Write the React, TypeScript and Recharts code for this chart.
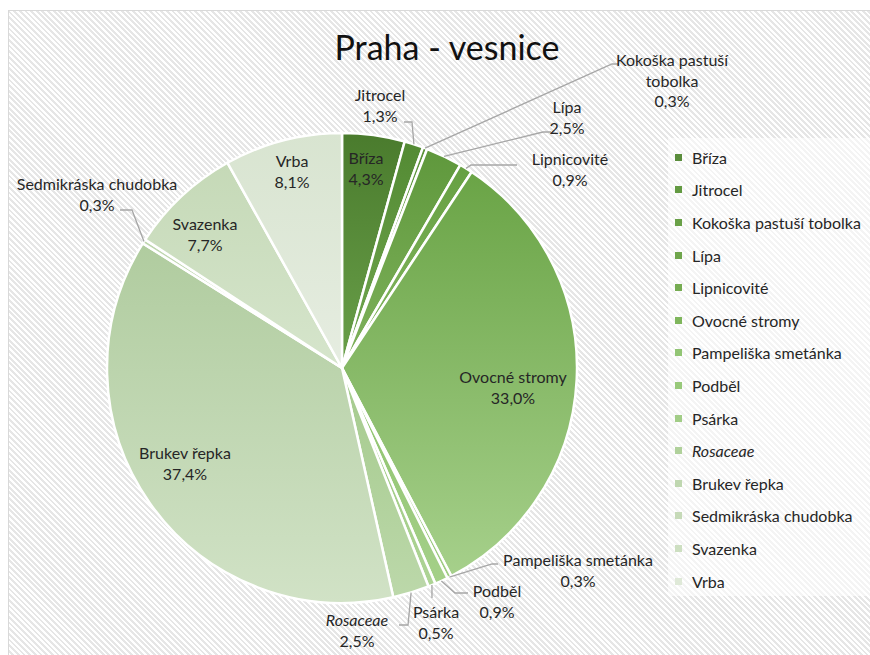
import React from "react";
import { PieChart, Pie, Cell, Legend } from "recharts";

// data (percent)
const categories = [
  "Bříza",
  "Jitrocel",
  "Kokoška pastuší tobolka",
  "Lípa",
  "Lipnicovité",
  "Ovocné stromy",
  "Pampeliška smetánka",
  "Podběl",
  "Psárka",
  "Rosaceae",
  "Brukev řepka",
  "Sedmikráska chudobka",
  "Svazenka",
  "Vrba",
];
const shares = [4.3, 1.3, 0.3, 2.5, 0.9, 33.0, 0.3, 0.9, 0.5, 2.5, 37.4, 0.3, 7.7, 8.1];
const italicNames = ["Rosaceae"];

// gradient top / bottom for each slice
const topColors = [
  "#4a7b2d", "#538a33", "#5a9238", "#5f983c", "#66a042", "#6aa446", "#86bd66",
  "#8cc26b", "#96c579", "#a4ca8c", "#b0cc9f", "#bdd5ad", "#c5d9b7", "#d8e4d0",
];
const bottomColors = [
  "#6aa04a", "#72a851", "#78ad56", "#7fb25c", "#86b863", "#a6d08b", "#9fcd82",
  "#a5d089", "#aed495", "#bcd8aa", "#d1e2c6", "#cfe0c3", "#d6e5cc", "#e6ede1",
];
const legendColors = [
  "#5a8d3c", "#639a42", "#69a047", "#6fa54c", "#76ac52", "#7fb65c", "#92c574",
  "#98c97a", "#a2cd87", "#b0d19b", "#bfd7b0", "#c6dab8", "#cddfc1", "#dfe9d8",
];

// label placement relative to the pie centre; leader = elbow and end point
type Spot = { dx: number; dy: number; wrap?: boolean; leader?: [number, number][] };
const labelSpots: Spot[] = [
  { dx: 24, dy: -200 },
  { dx: 38, dy: -263, leader: [[70, -246], [62, -246]] },
  { dx: 330, dy: -288, wrap: true, leader: [[270, -304], [277, -304]] },
  { dx: 225, dy: -251, leader: [[201, -236], [209, -236]] },
  { dx: 228, dy: -199, leader: [[129, -203], [175, -203]] },
  { dx: 171, dy: 19 },
  { dx: 236, dy: 202, leader: [[150, 196], [156, 196]] },
  { dx: 155, dy: 233, leader: [[113, 225], [126, 225]] },
  { dx: 94, dy: 254, leader: [[90, 230], [90, 230]] },
  { dx: 15, dy: 262, leader: [[66, 257], [57, 257]] },
  { dx: -157, dy: 95 },
  { dx: -245, dy: -174, leader: [[-210, -158], [-222, -158]] },
  { dx: -137, dy: -134 },
  { dx: -50, dy: -197 },
];

const rows = categories.map((name, i) => ({ name, value: shares[i] }));
const FONT = "Lato, 'Open Sans', sans-serif";
const RADIAN = Math.PI / 180;
const fmt = (v: number) => v.toFixed(1).replace(".", ",") + "%";

const renderLabel = (props: any) => {
  const { cx, cy, midAngle, outerRadius, index, name, value } = props;
  const spot = labelSpots[index];
  const words = String(name).split(" ");
  const nameLines = spot.wrap
    ? [words.slice(0, -1).join(" "), words[words.length - 1]]
    : [name];
  const lines = [...nameLines, fmt(value)];
  const lh = 20.5;
  const x = cx + spot.dx;
  const y0 = cy + spot.dy - ((lines.length - 1) * lh) / 2;
  let leader = null;
  if (spot.leader) {
    const ex = cx + outerRadius * Math.cos(-midAngle * RADIAN);
    const ey = cy + outerRadius * Math.sin(-midAngle * RADIAN);
    const pts = [[ex, ey], ...spot.leader.map(([a, b]) => [cx + a, cy + b])];
    leader = (
      <polyline
        points={pts.map((p) => p.join(",")).join(" ")}
        fill="none"
        stroke="#a6a6a6"
        strokeWidth={1.3}
      />
    );
  }
  return (
    <g key={"lbl" + index}>
      {leader}
      {lines.map((t, k) => (
        <text
          key={k}
          x={x}
          y={y0 + k * lh}
          textAnchor="middle"
          dominantBaseline="central"
          fontFamily={FONT}
          fontSize={16}
          fill="#262626"
          fontStyle={k < nameLines.length && italicNames.includes(name) ? "italic" : "normal"}
        >
          {t}
        </text>
      ))}
    </g>
  );
};

const renderLegend = (props: any) => {
  // keep the order of the data, not alphabetical
  const items = [...(props.payload || [])].sort(
    (a: any, b: any) => categories.indexOf(a.value) - categories.indexOf(b.value)
  );
  return (
    <div style={{ fontFamily: FONT, fontSize: 16, color: "#262626" }}>
      {items.map((entry: any) => {
        const i = categories.indexOf(entry.value);
        return (
          <div key={entry.value} style={{ height: 32.6, display: "flex", alignItems: "center" }}>
            <span
              style={{ width: 7, height: 7, background: legendColors[i], marginRight: 10, flexShrink: 0 }}
            />
            <span
              style={{ fontStyle: italicNames.includes(entry.value) ? "italic" : "normal", whiteSpace: "nowrap" }}
            >
              {entry.value}
            </span>
          </div>
        );
      })}
    </div>
  );
};

export default function App() {
  return (
    <div style={{ position: "fixed", left: 0, top: 0, width: 870, height: 655, overflow: "hidden" }}>
      <svg width={0} height={0} style={{ position: "absolute" }}>
        <defs>
          {categories.map((c, i) => (
            <linearGradient key={c} id={"slice" + i} x1="0" y1="0" x2="0" y2="1">
              <stop offset="0%" stopColor={topColors[i]} />
              <stop offset="100%" stopColor={bottomColors[i]} />
            </linearGradient>
          ))}
        </defs>
      </svg>
      <div
        style={{
          position: "absolute",
          left: 8,
          top: 10,
          right: 0,
          bottom: 0,
          borderLeft: "1.5px solid #d9d9d9",
          borderTop: "1.5px solid #d9d9d9",
          background: "repeating-linear-gradient(45deg, #ffffff 0px, #ffffff 2px, #e6e6e6 2px, #e6e6e6 4px)",
        }}
      />
      <div
        style={{
          position: "absolute",
          left: 668,
          top: 138,
          width: 202,
          height: 458,
          background: "rgba(255,255,255,0.55)",
        }}
      />
      <div
        style={{
          position: "absolute",
          left: 247,
          top: 27,
          width: 400,
          textAlign: "center",
          fontFamily: FONT,
          fontSize: 34,
          color: "#111",
          lineHeight: "40px",
        }}
      >
        Praha - vesnice
      </div>
      <div style={{ position: "absolute", left: 0, top: 0 }}>
        <PieChart width={870} height={655} margin={{ top: 0, right: 0, bottom: 0, left: 0 }}>
          <Pie
            data={rows}
            dataKey="value"
            nameKey="name"
            cx={342}
            cy={368}
            outerRadius={235}
            startAngle={90}
            endAngle={-270}
            stroke="#ffffff"
            strokeWidth={2.5}
            label={renderLabel}
            labelLine={false}
            isAnimationActive={false}
          >
            {rows.map((r, i) => (
              <Cell key={r.name} fill={`url(#slice${i})`} />
            ))}
          </Pie>
          <Legend
            layout="vertical"
            align="right"
            verticalAlign="top"
            content={renderLegend}
            wrapperStyle={{ left: 675, top: 141, width: 195, right: "auto" }}
          />
        </PieChart>
      </div>
    </div>
  );
}
